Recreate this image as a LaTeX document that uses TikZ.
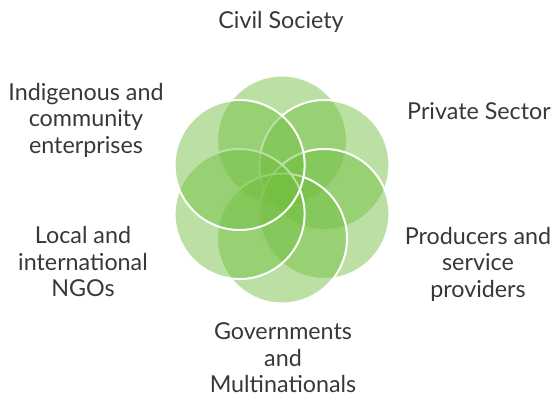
\documentclass[tikz,border=0pt]{standalone}
\usepackage{fontspec}
\setmainfont{Lato}
\usepackage{tikz}

\definecolor{petalgreen}{RGB}{112,190,62}
\definecolor{labelgray}{RGB}{56,56,56}

\tikzset{
	petal/.style={fill=petalgreen, fill opacity=0.47, draw=white, line width=2pt},
	sector/.style={align=center, inner sep=0pt, text=labelgray,
		font=\fontsize{23.3}{26.5}\selectfont}
}

\begin{document}
\begin{tikzpicture}[x=1pt,y=-1pt]
	\useasboundingbox (0,0) rectangle (554,397);
	
	% petals, clockwise from the top
	\draw[petal] (282,140.5) circle [radius=65pt];
	\draw[petal] (324.4,165) circle [radius=65pt];
	\draw[petal] (324.4,214) circle [radius=65pt];
	\draw[petal] (282,238.5) circle [radius=65pt];
	\draw[petal] (239.6,214) circle [radius=65pt];
	\draw[petal] (239.6,165) circle [radius=65pt];
	
	% labels
	\node[sector] (civil) at (281,22) {Civil Society};
	\node[sector] (private) at (479,111) {Private Sector};
	\node[sector] (producers) at (478,264) {Producers and\\service\\providers};
	\node[sector] (govern) at (283,358) {Governments\\and\\Multinationals};
	\node[sector] (ngos) at (83,262) {Local and\\international\\NGOs};
	\node[sector] (indigenous) at (86,120) {Indigenous and\\community\\enterprises};
\end{tikzpicture}
\end{document}
